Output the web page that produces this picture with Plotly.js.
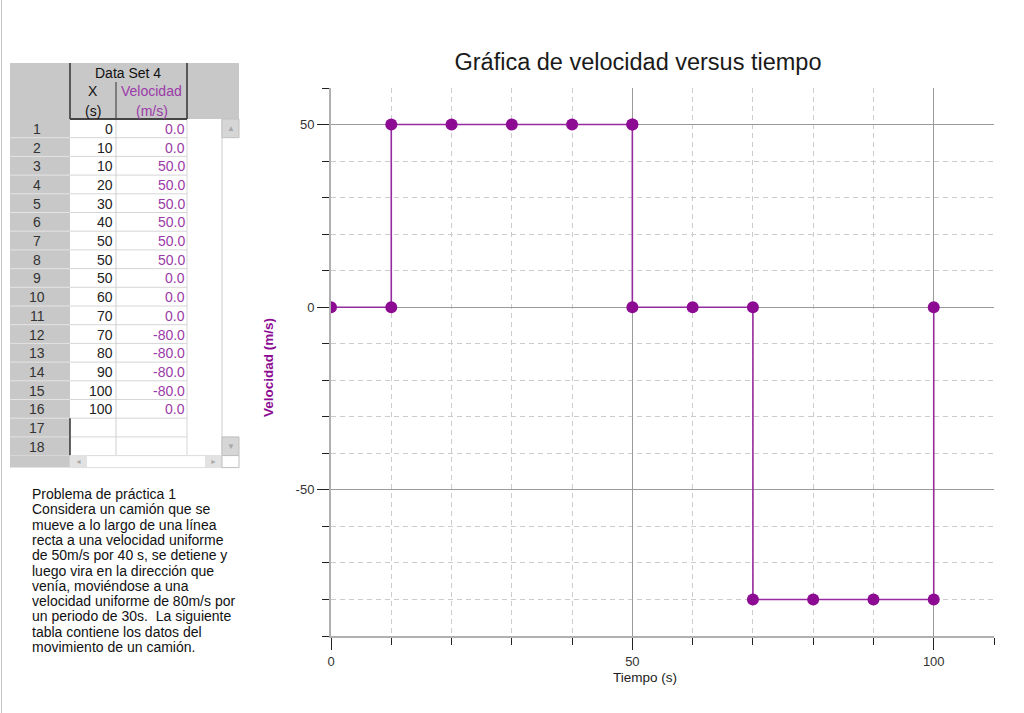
<!DOCTYPE html>
<html>
<head>
<meta charset="utf-8">
<script src="https://cdn.plot.ly/plotly-3.0.1.min.js"></script>
<style>
html,body{margin:0;padding:0;background:#fff;}
#chart{width:1024px;height:713px;}
</style>
</head>
<body>
<div id="chart"></div>
<script>
// ---- Data ----
const tiempo = [0, 10, 10, 20, 30, 40, 50, 50, 50, 60, 70, 70, 80, 90, 100, 100];
const velocidad = [0, 0, 50, 50, 50, 50, 50, 50, 0, 0, 0, -80, -80, -80, -80, 0];
const tableRows = 18;
const tableTitle = "Data Set 4";
const colXName = ["X", "(s)"];
const colVName = ["Velocidad", "(m/s)"];
const chartTitle = "Gráfica de velocidad versus tiempo";
const xTitle = "Tiempo (s)";
const yTitle = "Velocidad (m/s)";
const xTickVals = [0, 50, 100];
const xTickText = ["0", "50", "100"];
const yTickVals = [-50, 0, 50];
const yTickText = ["-50", "0", "50"];
const problemLines = [
  "Problema de práctica 1",
  "Considera un camión que se",
  "mueve a lo largo de una línea",
  "recta a una velocidad uniforme",
  "de 50m/s por 40 s, se detiene y",
  "luego vira en la dirección que",
  "venía, moviéndose a una",
  "velocidad uniforme de 80m/s por",
  "un periodo de 30s.  La siguiente",
  "tabla contiene los datos del",
  "movimiento de un camión."
];

// ---- Layout helpers ----
const W = 1024, H = 713, ML = 331, MR = 30, MT = 88, MB = 77;
const PW = W - ML - MR, PH = H - MT - MB;
const px = x => (x - ML) / PW;
const py = y => (H - MB - y) / PH;
const FONT = "Liberation Sans, Arial, sans-serif";
const PURPLE = "#8d0b93";
const TPURPLE = "#9b3aa8";

const shapes = [];
const annotations = [];
function rect(x0, y0, x1, y1, fill, lc, lw) {
  shapes.push({type: "rect", xref: "paper", yref: "paper", x0: px(x0), x1: px(x1), y0: py(y1), y1: py(y0),
    fillcolor: fill, line: {color: lc || fill, width: lw === undefined ? 0 : lw}, layer: "above"});
}
function line(x0, y0, x1, y1, c, w) {
  shapes.push({type: "line", xref: "paper", yref: "paper", x0: px(x0), x1: px(x1), y0: py(y0), y1: py(y1),
    line: {color: c, width: w || 1}, layer: "above"});
}
function text(t, x, y, opts) {
  opts = opts || {};
  annotations.push({text: t, xref: "paper", yref: "paper", x: px(x), y: py(y), showarrow: false,
    xanchor: opts.xa || "center", yanchor: opts.ya || "middle", textangle: opts.angle || 0,
    borderpad: 0,
    font: {family: FONT, size: opts.size || 13, color: opts.color || "#222", weight: opts.weight || "normal"}});
}

// page border
line(1.5, 0, 1.5, 713, "#c4c4c4", 1);

// ---- Table ----
const T0 = 63, HB = 119, RH = 18.7;
const BB = HB + tableRows * RH;
const cL = 10, cA = 70, cB = 116, cC = 187, cS = 222, cR = 239;
const TS = 14;
rect(cL, T0, cR, HB, "#c8c8c8");
rect(cL, HB, cA, BB, "#c8c8c8");
rect(cA, HB, cS, BB, "#ffffff");
for (let i = 1; i <= tableRows; i++) {
  const y = HB + i * RH;
  line(cL, y, cA, y, "#e4e4e4", 1);
  line(cA, y, cC, y, "#d6d6d6", 1);
}
line(cB, HB, cB, BB, "#cfcfcf", 1);
line(cC, HB, cC, BB, "#d6d6d6", 1);
// header dark lines
line(cA, T0, cA, HB, "#333", 1.5);
line(cC, T0, cC, HB, "#333", 1.5);
line(cB, 82, cB, HB, "#333", 1);
line(cA, HB, cC, HB, "#444", 2);
// empty rows dark edge
line(cA, HB + (tiempo.length) * RH, cA, BB, "#333", 1.5);
// vertical scrollbar
line(cS, HB, cS, BB, "#cccccc", 1);
rect(cS, HB, cR, HB + RH, "#d6d6d6", "#c0c0c0", 1);
rect(cS, BB - RH, cR, BB, "#d6d6d6", "#c0c0c0", 1);
text("▲", (cS + cR) / 2, HB + RH / 2, {size: 8, color: "#a8a8a8"});
text("▼", (cS + cR) / 2, BB - RH / 2, {size: 8, color: "#a8a8a8"});
// horizontal scrollbar
const SB = BB + 12;
rect(cL, BB, cA, SB, "#c8c8c8");
rect(cA, BB, cS, SB, "#ffffff", "#dddddd", 1);
rect(cA, BB, cA + 17, SB, "#e2e2e2");
rect(cS - 17, BB, cS, SB, "#e2e2e2");
rect(cS, BB, cR, SB, "#ffffff", "#bdbdbd", 1);
text("◄", cA + 8.5, BB + 6, {size: 7, color: "#aaaaaa"});
text("►", cS - 8.5, BB + 6, {size: 7, color: "#aaaaaa"});
// header text
text(tableTitle, (cA + cC) / 2, 73, {size: TS, color: "#111"});
text(colXName[0], (cA + cB) / 2, 91, {size: TS, color: "#111"});
text(colXName[1], (cA + cB) / 2, 111, {size: TS, color: "#111"});
text(colVName[0], (cB + cC) / 2, 91, {size: TS, color: TPURPLE});
text(colVName[1], (cB + cC) / 2, 111, {size: TS, color: TPURPLE});
// rows
for (let i = 0; i < tableRows; i++) {
  const yc = HB + (i + 0.5) * RH + 0.5;
  text(String(i + 1), 37, yc, {size: TS, color: "#333"});
  if (i < tiempo.length) {
    text(String(tiempo[i]), cB - 2, yc, {xa: "right", size: TS, color: "#222"});
    text(velocidad[i].toFixed(1), cC - 1, yc, {xa: "right", size: TS, color: TPURPLE});
  }
}

// ---- Problem text ----
problemLines.forEach((s, i) => {
  text(s, 31, 494 + i * 15.3, {xa: "left", size: 14, color: "#111"});
});

// ---- Axis titles ----
text(xTitle, 645, 677, {size: 13.5, color: "#222"});
text(yTitle, 268, 368, {size: 13.5, color: PURPLE, angle: -90, weight: "bold"});

const trace = {
  x: tiempo, y: velocidad, type: "scatter", mode: "lines+markers",
  line: {color: "#962aa0", width: 1.6},
  marker: {color: PURPLE, size: 12},
  cliponaxis: true, hoverinfo: "x+y"
};

const axisCommon = {
  ticks: "outside", ticklen: 12, tickwidth: 1, tickcolor: "#222",
  showgrid: true, gridcolor: "#9a9a9a", gridwidth: 1,
  showline: true, linecolor: "#b0b0b0", linewidth: 2,
  zeroline: false, tickmode: "array",
  tickfont: {family: FONT, size: 13, color: "#333"},
  minor: {dtick: 10, tick0: 0, ticks: "outside", ticklen: 7, tickcolor: "#222", tickwidth: 1,
    showgrid: true, gridcolor: "#cccccc", griddash: "5px,4px", gridwidth: 1},
  fixedrange: true
};

const layout = {
  width: W, height: H,
  margin: {l: ML, r: MR, t: MT, b: MB, pad: 0},
  paper_bgcolor: "#ffffff", plot_bgcolor: "#ffffff",
  showlegend: false,
  title: {text: chartTitle, xref: "container", yref: "container", x: 638 / W, y: 1 - 62 / H,
    xanchor: "center", yanchor: "middle", font: {family: FONT, size: 23.5, color: "#1a1a1a"}},
  xaxis: Object.assign({}, axisCommon, {range: [0, 110], tickvals: xTickVals, ticktext: xTickText}),
  yaxis: Object.assign({}, axisCommon, {range: [-90, 60], tickvals: yTickVals, ticktext: yTickText}),
  shapes: shapes,
  annotations: annotations,
  font: {family: FONT}
};

Plotly.newPlot("chart", [trace], layout, {displayModeBar: false, staticPlot: false});
</script>
</body>
</html>
